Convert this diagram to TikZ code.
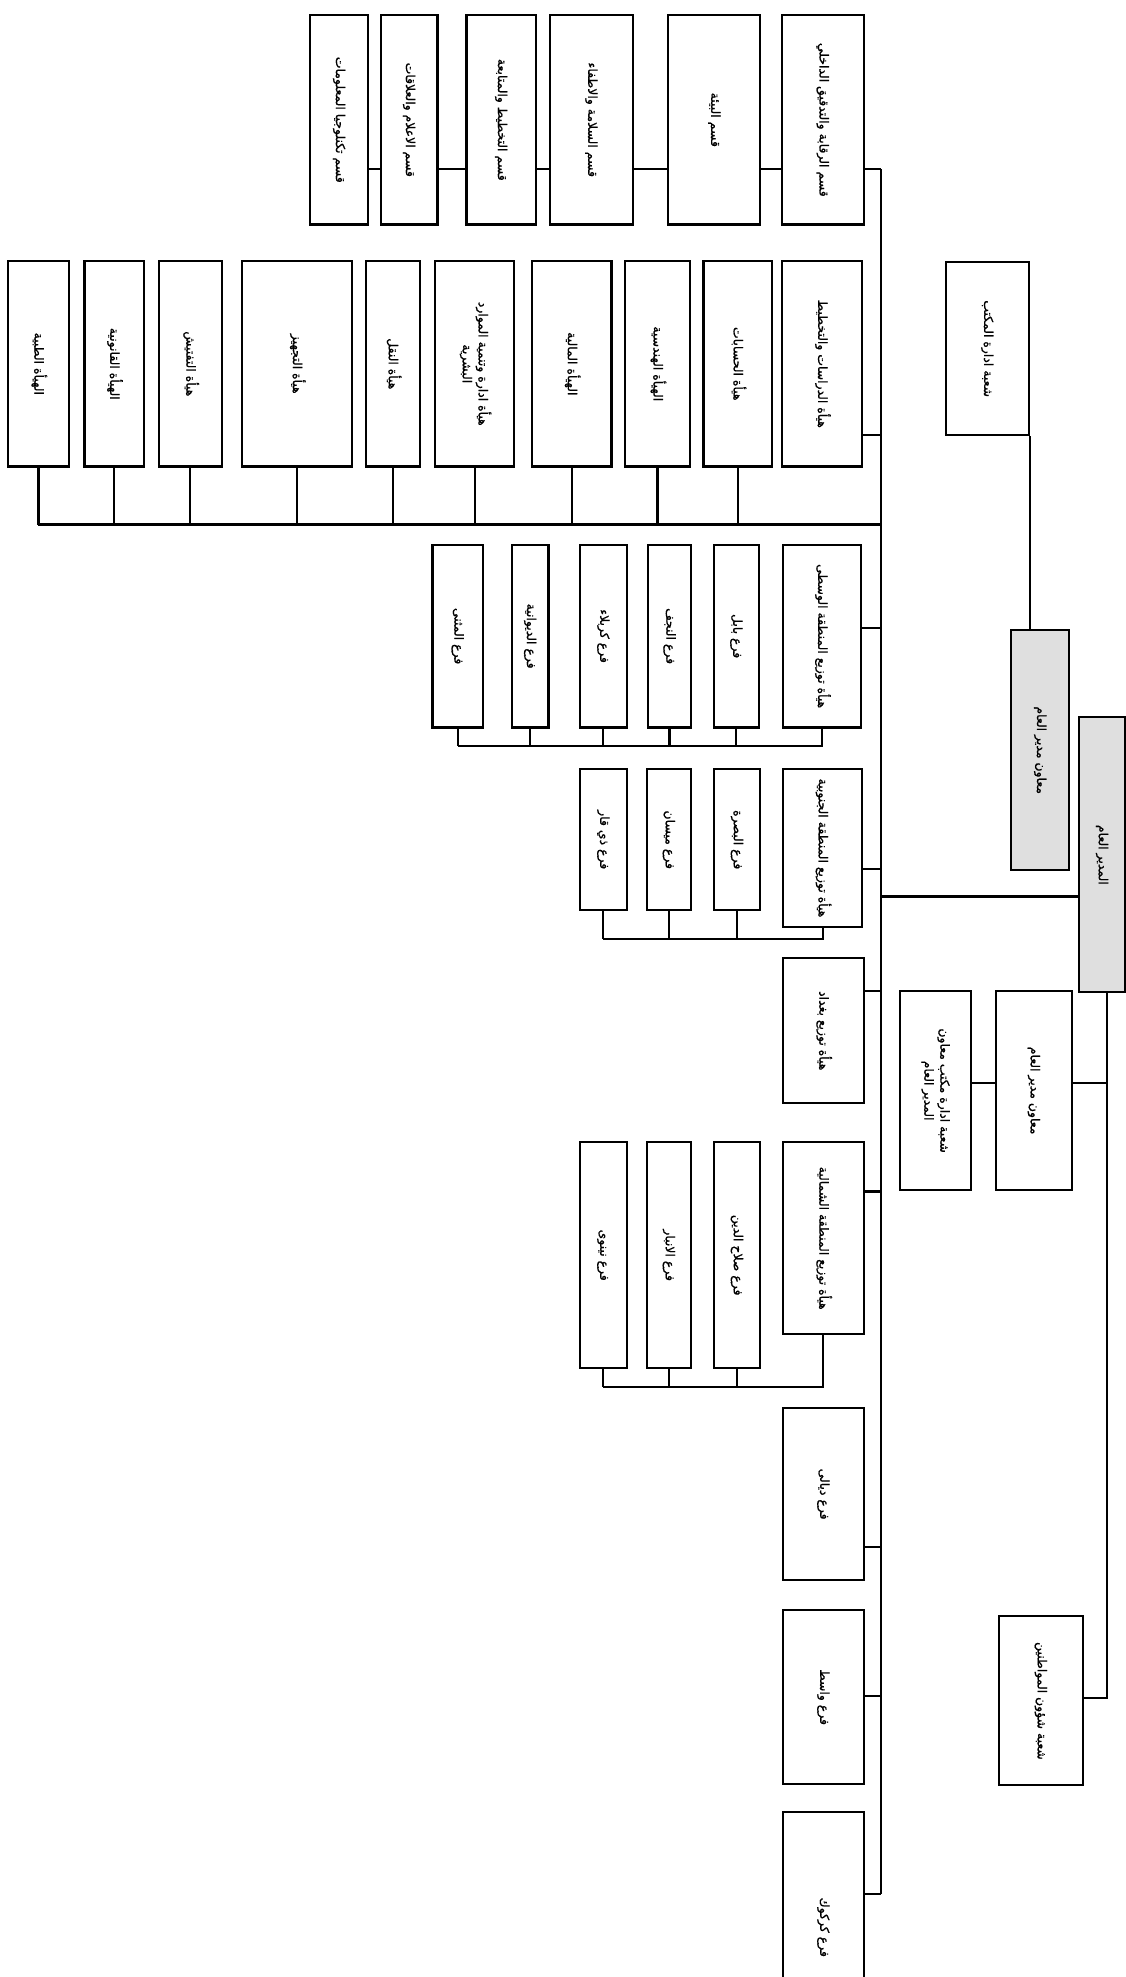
\documentclass[tikz,border=0pt]{standalone}
\usepackage{graphicx}
\usepackage{fontspec}
\usepackage{tikz}
\usetikzlibrary{positioning}
\newfontfamily\arabicfont[Script=Arabic,FakeBold=0.8]{DejaVu Sans}
\TeXXeTstate=1
\newcommand{\rl}[1]{\beginR#1\endR}
\newcommand{\artext}[1]{\rotatebox{-90}{\arabicfont\fontsize{7}{9}\selectfont\begin{tabular}{@{}c@{}}#1\end{tabular}}}
\newcommand{\mkbox}[7]{\node[#1,minimum width={(#5-#3)*0.025cm},minimum height={(#6-#4)*0.025cm}] (#2) at ({(#3+#5)/2},{(#4+#6)/2}) {\artext{#7}};}
\tikzset{
orgbox/.style={draw,line width=1.2pt,inner sep=0pt,fill=white},
headbox/.style={orgbox,fill=gray!25},
orgline/.style={line width=1.2pt}
}
\begin{document}
\begin{tikzpicture}[x=0.025cm,y=-0.025cm]
\useasboundingbox (0,0) rectangle (893,1568);
\mkbox{orgbox}{t1}{620}{12}{685}{178}{\rl{قسم الرقابة والتدقيق الداخلي}}
\mkbox{orgbox}{t2}{530}{12}{603}{178}{\rl{قسم البيئة}}
\mkbox{orgbox}{t3}{436}{12}{502}{178}{\rl{قسم السلامة والاطفاء}}
\mkbox{orgbox}{t4}{370}{12}{425}{178}{\rl{قسم التخطيط والمتابعة}}
\mkbox{orgbox}{t5}{302}{12}{347}{178}{\rl{قسم الاعلام والعلاقات}}
\mkbox{orgbox}{t6}{246}{12}{292}{178}{\rl{قسم تكنلوجيا المعلومات}}
\mkbox{orgbox}{s1}{620}{207}{684}{370}{\rl{هيأة الدراسات والتخطيط}}
\mkbox{orgbox}{s2}{558}{207}{612}{370}{\rl{هيأة الحسابات}}
\mkbox{orgbox}{s3}{496}{207}{547}{370}{\rl{الهيأة الهندسية}}
\mkbox{orgbox}{s4}{422}{207}{485}{370}{\rl{الهيأة المالية}}
\mkbox{orgbox}{s5}{345}{207}{408}{370}{\rl{هيأة ادارة وتنمية الموارد}\\\rl{البشرية}}
\mkbox{orgbox}{s6}{290}{207}{333}{370}{\rl{هيأة النقل}}
\mkbox{orgbox}{s7}{192}{207}{279}{370}{\rl{هيأة التجهيز}}
\mkbox{orgbox}{s8}{126}{207}{176}{370}{\rl{هيأة التفتيش}}
\mkbox{orgbox}{s9}{67}{207}{114}{370}{\rl{الهيأة القانونية}}
\mkbox{orgbox}{s10}{6}{207}{55}{370}{\rl{الهيأة الطبية}}
\mkbox{orgbox}{c0}{621}{432}{683}{577}{\rl{هيأة توزيع المنطقة الوسطى}}
\mkbox{orgbox}{c1}{566}{432}{602}{577}{\rl{فرع بابل}}
\mkbox{orgbox}{c2}{514}{432}{548}{577}{\rl{فرع النجف}}
\mkbox{orgbox}{c3}{460}{432}{497}{577}{\rl{فرع كربلاء}}
\mkbox{orgbox}{c4}{406}{432}{435}{577}{\rl{فرع الديوانية}}
\mkbox{orgbox}{c5}{343}{432}{383}{577}{\rl{فرع المثنى}}
\mkbox{orgbox}{d0}{621}{610}{684}{735}{\rl{هيأة توزيع المنطقة الجنوبية}}
\mkbox{orgbox}{d1}{566}{610}{603}{722}{\rl{فرع البصرة}}
\mkbox{orgbox}{d2}{513}{610}{548}{722}{\rl{فرع ميسان}}
\mkbox{orgbox}{d3}{460}{610}{497}{722}{\rl{فرع ذي قار}}
\mkbox{orgbox}{e0}{621}{760}{685}{875}{\rl{هيأة توزيع بغداد}}
\mkbox{orgbox}{f0}{621}{906}{685}{1058}{\rl{هيأة توزيع المنطقة الشمالية}}
\mkbox{orgbox}{f1}{566}{906}{603}{1085}{\rl{فرع صلاح الدين}}
\mkbox{orgbox}{f2}{513}{906}{548}{1085}{\rl{فرع الانبار}}
\mkbox{orgbox}{f3}{460}{906}{497}{1085}{\rl{فرع نينوى}}
\mkbox{orgbox}{g1}{621}{1117}{685}{1253}{\rl{فرع ديالى}}
\mkbox{orgbox}{g2}{621}{1277}{685}{1415}{\rl{فرع واسط}}
\mkbox{orgbox}{g3}{621}{1437}{685}{1620}{\rl{فرع كركوك}}
\mkbox{orgbox}{r1}{750}{208}{816}{345}{\rl{شعبة ادارة المكتب}}
\mkbox{headbox}{r2}{802}{500}{848}{690}{\rl{معاون مدير العام}}
\mkbox{headbox}{r3}{856}{569}{892}{787}{\rl{المدير العام}}
\mkbox{orgbox}{r4}{790}{786}{850}{944}{\rl{معاون مدير العام}}
\mkbox{orgbox}{r5}{714}{786}{770}{944}{\rl{شعبة ادارة مكتب معاون}\\\rl{المدير العام}}
\mkbox{orgbox}{r6}{792}{1282}{859}{1416}{\rl{شعبة شؤون المواطنين}}
\coordinate (toprow) at (699,134);
\coordinate (mainend) at (699,1502);
\coordinate (s1link) at (699,345);
\coordinate (sbar) at (699,416);
\coordinate (c0link) at (699,498);
\coordinate (cbar) at (652,592);
\coordinate (d0link) at (699,689);
\coordinate (dbar) at (652,745);
\coordinate (e0link) at (699,786);
\coordinate (f0link) at (699,945);
\coordinate (fbar) at (652,1100);
\coordinate (g1link) at (699,1227);
\coordinate (g2link) at (699,1345);
\coordinate (gmlink) at (699,711);
\coordinate (r4link) at (878,859);
\coordinate (r6link) at (878,1347);
\draw[orgline] (toprow) -- (mainend);
\draw[orgline] (t1.east |- toprow) -- (toprow);
\foreach \a/\b in {t1/t2,t2/t3,t3/t4,t4/t5,t5/t6}
  \draw[orgline] (\a.west |- toprow) -- (\b.east |- toprow);
\draw[orgline] (s1.east |- s1link) -- (s1link);
\draw[orgline] (s10.south |- sbar) -- (sbar);
\foreach \n in {s2,s3,s4,s5,s6,s7,s8,s9,s10}
  \draw[orgline] (\n.south) -- (\n.south |- sbar);
\draw[orgline] (c0.east |- c0link) -- (c0link);
\draw[orgline] (c0.south) -- (c0.south |- cbar) -- (c5.south |- cbar);
\foreach \n in {c1,c2,c3,c4,c5}
  \draw[orgline] (\n.south) -- (\n.south |- cbar);
\draw[orgline] (d0.east |- d0link) -- (d0link);
\draw[orgline] (d0.south) -- (d0.south |- dbar) -- (d3.south |- dbar);
\foreach \n in {d1,d2,d3}
  \draw[orgline] (\n.south) -- (\n.south |- dbar);
\draw[orgline] (e0.east |- e0link) -- (e0link);
\draw[orgline] (f0.east |- f0link) -- (f0link);
\draw[orgline] (f0.south) -- (f0.south |- fbar) -- (f3.south |- fbar);
\foreach \n in {f1,f2,f3}
  \draw[orgline] (\n.south) -- (\n.south |- fbar);
\draw[orgline] (g1.east |- g1link) -- (g1link);
\draw[orgline] (g2.east |- g2link) -- (g2link);
\draw[orgline] (g3.east |- mainend) -- (mainend);
\draw[orgline] (r1.south east) -- (r1.south east |- r2.north);
\draw[orgline] (r3.west |- gmlink) -- (gmlink);
\draw[orgline] (r3.south -| r6link) -- (r6link) -- (r6.east |- r6link);
\draw[orgline] (r4.east |- r4link) -- (r4link);
\draw[orgline] (r5.east |- r4link) -- (r4.west |- r4link);
\end{tikzpicture}
\end{document}
